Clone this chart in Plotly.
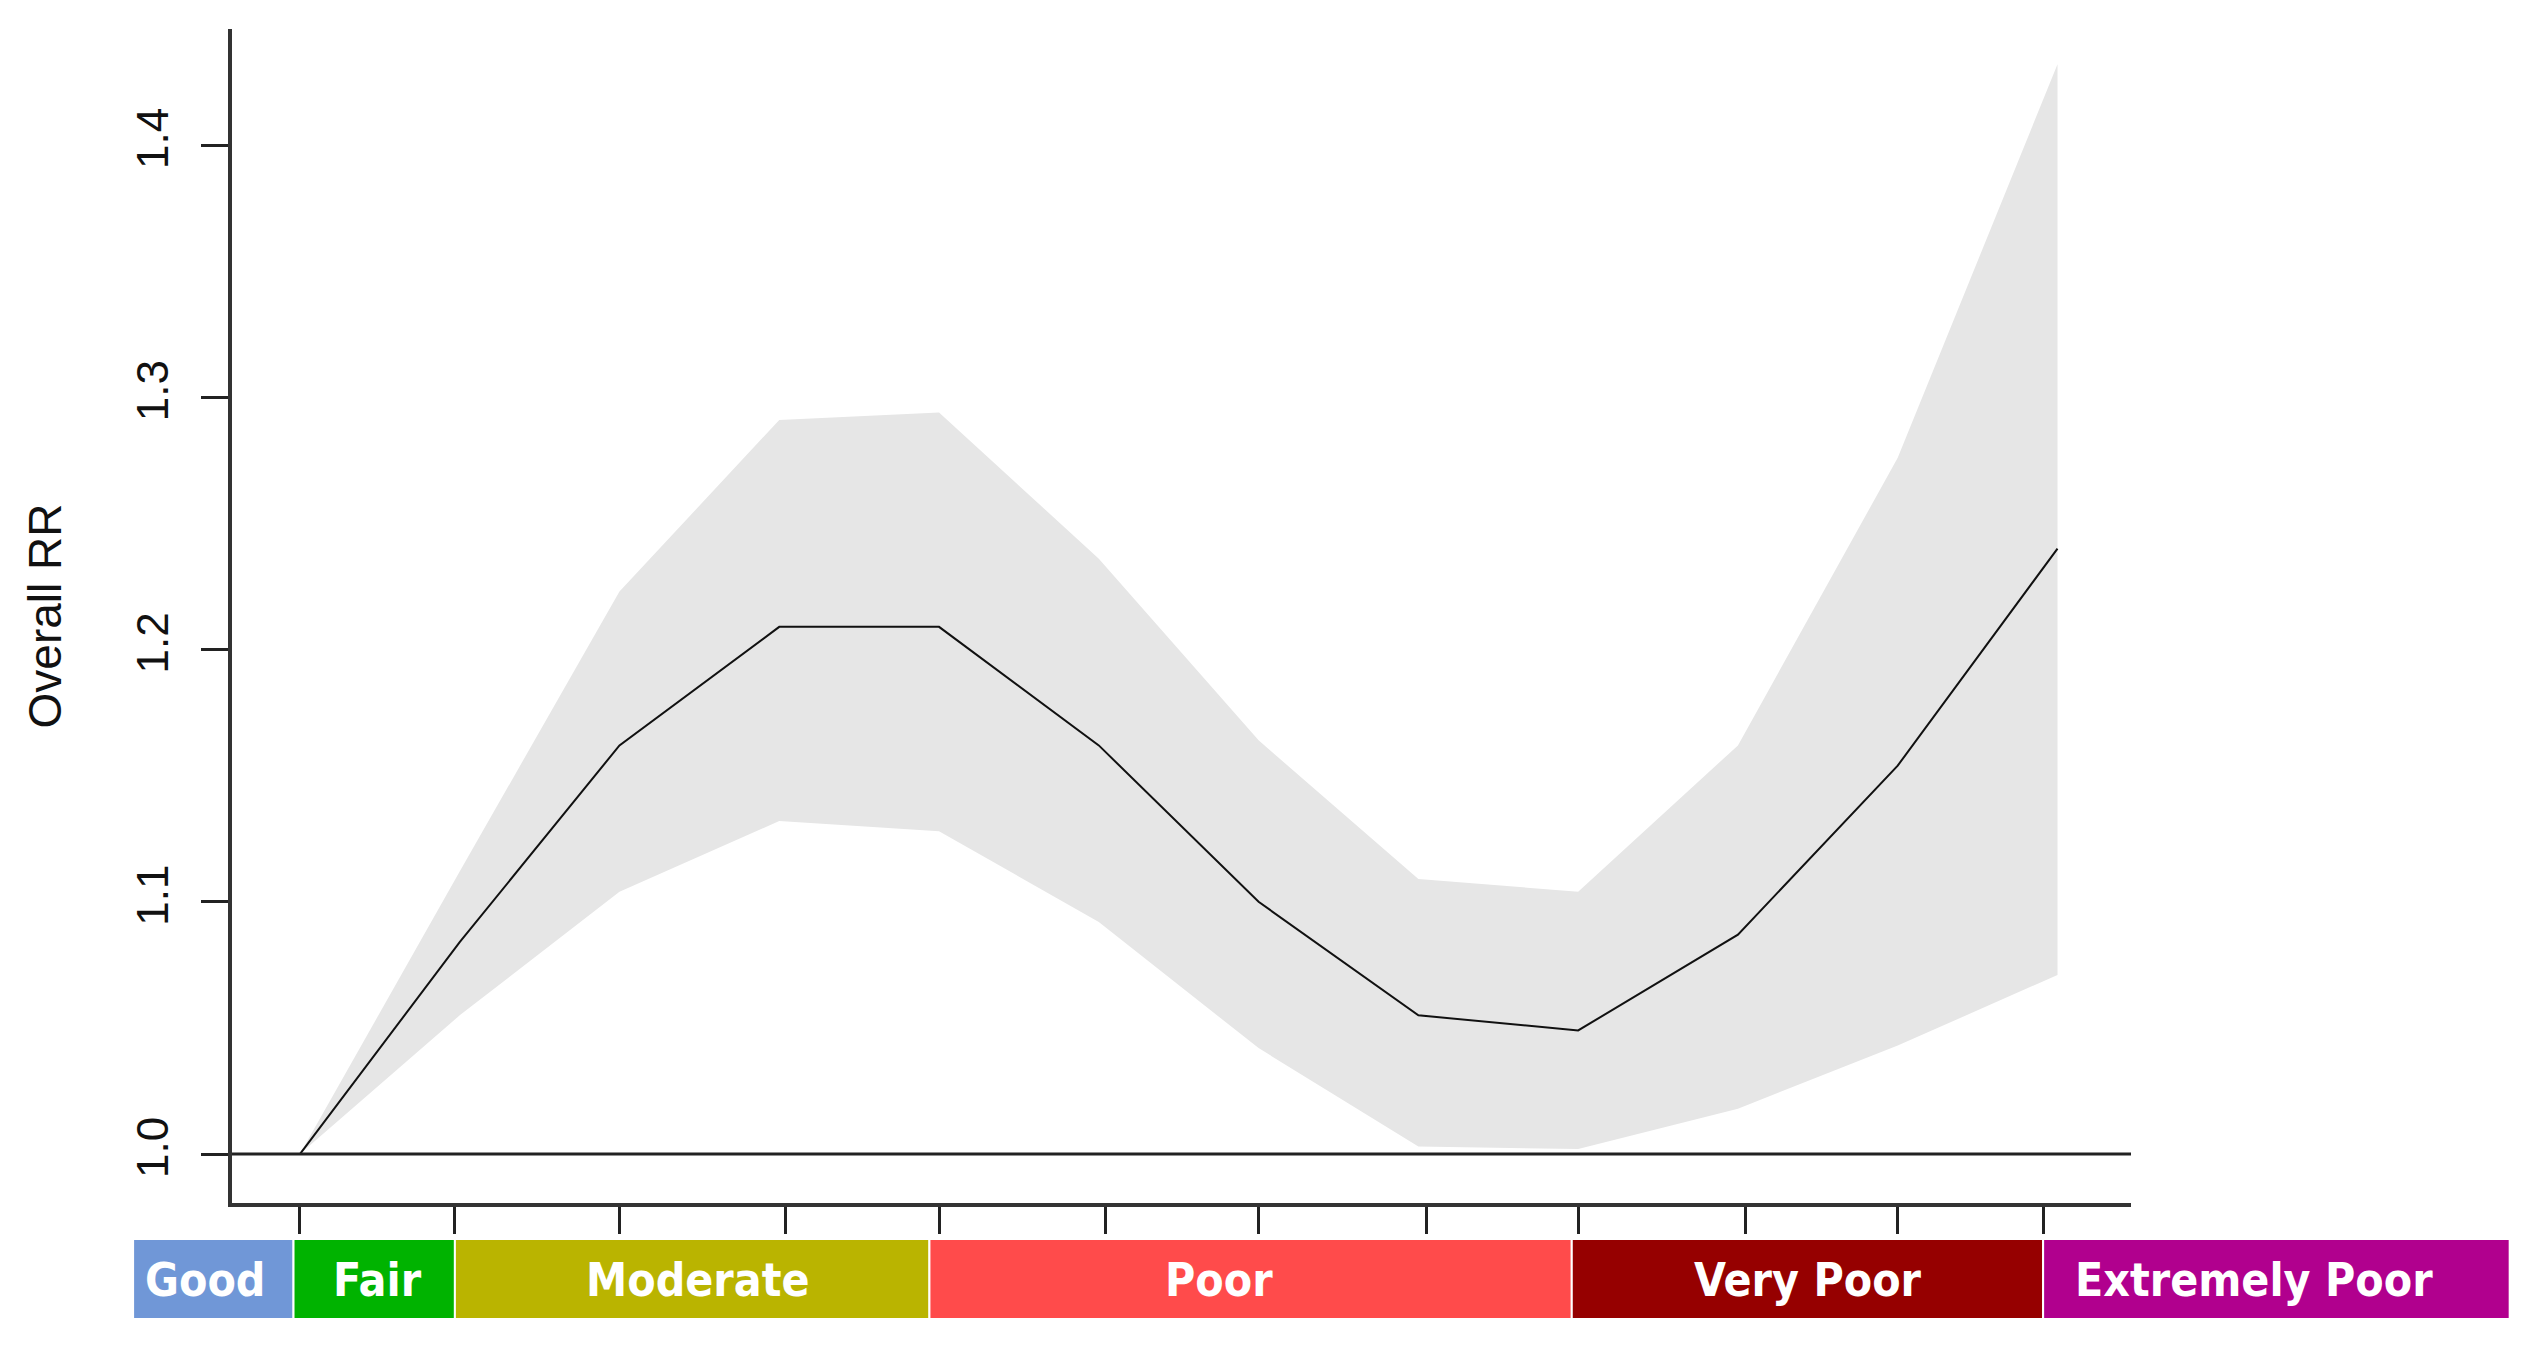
"""Overall RR by air quality level"""
import plotly.graph_objects as go

# exposure levels (x positions of the estimated points)
levels = [0, 1, 2, 3, 4, 5, 6, 7, 8, 9, 10, 11]
rr = [1.000, 1.084, 1.162, 1.209, 1.209, 1.162, 1.100, 1.055, 1.049, 1.087, 1.154, 1.240]
rr_upper = [1.000, 1.112, 1.223, 1.291, 1.294, 1.236, 1.164, 1.109, 1.104, 1.162, 1.276, 1.432]
rr_lower = [1.000, 1.055, 1.104, 1.132, 1.128, 1.092, 1.042, 1.003, 1.002, 1.018, 1.043, 1.071]

# tick marks under the x axis (no labels in the original)
x_ticks = [0, 0.97, 2, 3.04, 4, 5.04, 6, 7.05, 8, 9.05, 10, 10.91]
y_ticks = [1.0, 1.1, 1.2, 1.3, 1.4]
y_tick_text = ["1.0", "1.1", "1.2", "1.3", "1.4"]

# air quality bands along the bottom
band_names = ["Good", "Fair", "Moderate", "Poor", "Very Poor", "Extremely Poor"]
band_edges = [-1.044, -0.04, 0.97, 3.94, 7.96, 10.91, 13.83]
band_colors = ["#7097D7", "#00B300", "#BAB400", "#FF4B4B", "#960000", "#B1008E"]
# where each band name sits (not always centred in the original)
band_label_x = [-0.595, 0.484, 2.49, 5.75, 9.44, 12.23]

X_RANGE = [-0.425, 11.46]
Y_RANGE = [0.9806, 1.446]


def to_paper(v):
    return (v - X_RANGE[0]) / (X_RANGE[1] - X_RANGE[0])


fig = go.Figure()

fig.add_trace(go.Scatter(
    x=levels, y=rr_upper, mode="lines",
    line=dict(width=0, color="#E6E6E6"),
    showlegend=False, hoverinfo="skip"
))
fig.add_trace(go.Scatter(
    x=levels, y=rr_lower, mode="lines",
    line=dict(width=0, color="#E6E6E6"),
    fill="tonexty", fillcolor="#E6E6E6",
    showlegend=False, hoverinfo="skip"
))
fig.add_trace(go.Scatter(
    x=levels, y=rr, mode="lines",
    line=dict(width=2, color="#111111"),
    showlegend=False
))

# reference line at RR = 1
fig.add_shape(
    type="line", xref="paper", yref="y",
    x0=0, x1=1, y0=1.0, y1=1.0,
    line=dict(color="#222222", width=3)
)

for name, left, right, color, lx in zip(band_names, band_edges[:-1], band_edges[1:],
                                        band_colors, band_label_x):
    fig.add_shape(
        type="rect", xref="paper", yref="paper",
        x0=to_paper(left), x1=to_paper(right),
        y0=-0.0988, y1=-0.0307,
        fillcolor=color, line=dict(color="white", width=2),
        layer="above"
    )
    fig.add_annotation(
        x=to_paper(lx), y=-0.066,
        xref="paper", yref="paper",
        text=name, showarrow=False,
        font=dict(family="DejaVu Sans Condensed, DejaVu Sans", size=46,
                  color="white", weight="bold"),
        xanchor="center", yanchor="middle"
    )

fig.update_xaxes(
    range=X_RANGE,
    showline=True, linecolor="#333333", linewidth=4,
    showgrid=False, zeroline=False,
    ticks="outside", tickvals=x_ticks, ticklen=27, tickwidth=3,
    tickcolor="#222222", showticklabels=False
)
fig.update_yaxes(
    range=Y_RANGE,
    showline=True, linecolor="#333333", linewidth=4,
    showgrid=False, zeroline=False,
    ticks="outside", tickvals=y_ticks, ticktext=y_tick_text,
    ticklen=27, tickwidth=3, tickcolor="#222222",
    tickangle=-90, ticklabelstandoff=15,
    tickfont=dict(family="Arial, Liberation Sans", size=44, color="#111111"),
    title=dict(text="Overall RR", standoff=53,
               font=dict(family="Arial, Liberation Sans", size=46, color="#111111"))
)

fig.update_layout(
    width=2528, height=1352,
    margin=dict(l=232, r=397, t=29, b=149),
    plot_bgcolor="white", paper_bgcolor="white"
)

fig.write_html("out.html", config={"displayModeBar": False},
               post_script="document.body.style.margin='0';")
